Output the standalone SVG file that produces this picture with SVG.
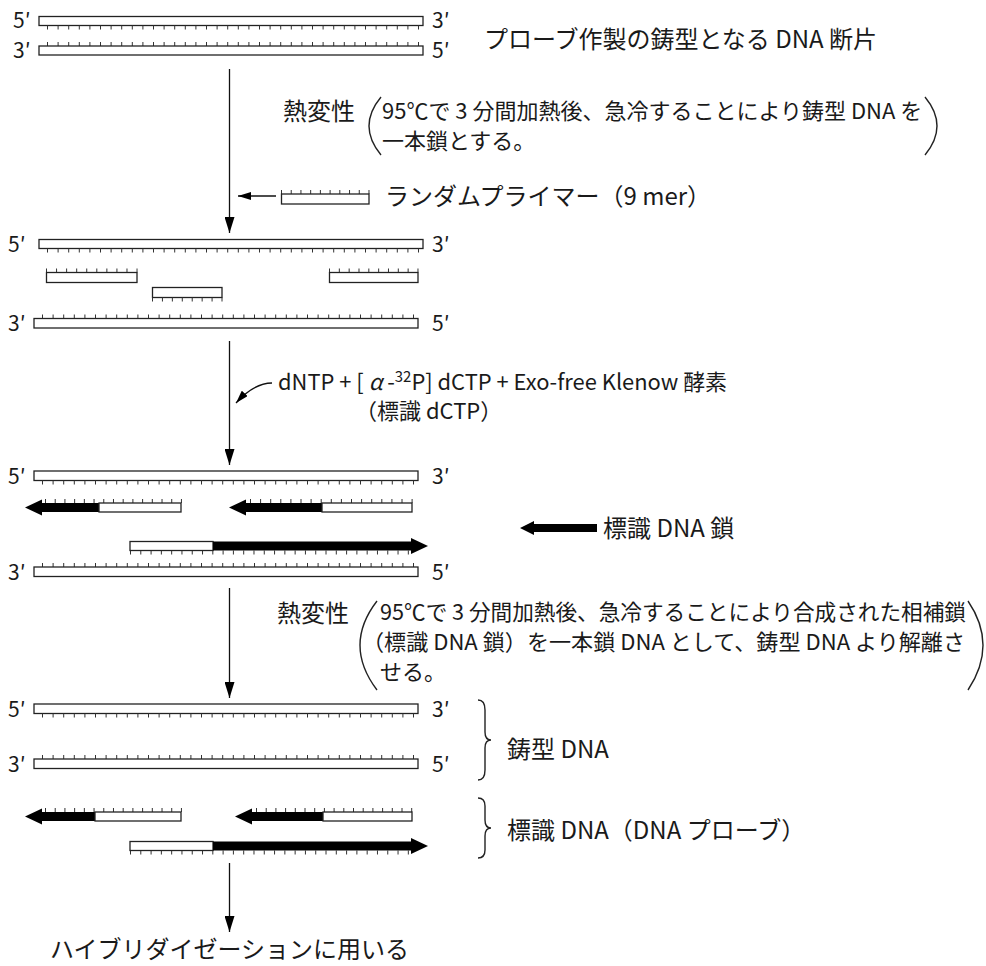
<svg xmlns="http://www.w3.org/2000/svg" width="986" height="966" viewBox="0 0 986 966">
<style>
text{font-family:"Noto Sans CJK JP","Noto Sans",sans-serif;fill:#1a1a1a;font-size:22px}
.lb{font-size:21px}
.big{font-size:24px}
.st{fill:#fff;stroke:#222;stroke-width:1.3}
.tk{stroke:#333;stroke-width:4;fill:none}
.ln{stroke:#111;stroke-width:1.3;fill:none}
.bk{fill:#000}
.br{fill:none;stroke:#222;stroke-width:1.4}
</style>
<defs>
<marker id="ah" viewBox="0 0 16 10" refX="16" refY="5" markerWidth="16" markerHeight="10" markerUnits="userSpaceOnUse" orient="auto"><path d="M0,0 L16,5 L0,10 z" fill="#000"/></marker>
<marker id="ahs" viewBox="0 0 13 8" refX="13" refY="4" markerWidth="13" markerHeight="8" markerUnits="userSpaceOnUse" orient="auto"><path d="M0,0 L13,4 L0,8 z" fill="#000"/></marker>
</defs>

<g id="connectors">
<line class="ln" x1="229.5" y1="69" x2="229.5" y2="233" marker-end="url(#ah)"/>
<line class="ln" x1="276" y1="196" x2="238" y2="196" marker-end="url(#ahs)"/>
<line class="ln" x1="229.5" y1="341" x2="229.5" y2="465" marker-end="url(#ah)"/>
<path class="ln" d="M272,383 C258,383 246,392 236,403" marker-end="url(#ahs)"/>
<line class="ln" x1="229.5" y1="588" x2="229.5" y2="698" marker-end="url(#ah)"/>
<line class="ln" x1="229.5" y1="863" x2="229.5" y2="932" marker-end="url(#ah)"/>
</g>

<g id="template-ds">
<text class="lb" x="13" y="28">5′</text><text class="lb" x="432" y="28">3′</text>
<rect class="st" x="39" y="16.5" width="384" height="9"/>
<line class="tk" x1="47" y1="27.5" x2="419" y2="27.5" stroke-dasharray="1 9.6"/>
<text class="lb" x="13" y="58">3′</text><text class="lb" x="432" y="58">5′</text>
<line class="tk" x1="47" y1="44" x2="419" y2="44" stroke-dasharray="1 9.6"/>
<rect class="st" x="39" y="46" width="384" height="9"/>
<text class="big" x="484" y="48">プローブ作製の鋳型となる DNA 断片</text>
</g>

<g id="denature1">
<text class="big" x="283" y="120">熱変性</text>
<path class="br" d="M381,97 Q357,126 381,155"/>
<text x="382" y="119">95℃で 3 分間加熱後、急冷することにより鋳型 DNA を</text>
<text x="382" y="149">一本鎖とする。</text>
<path class="br" d="M925,97 Q949,126 925,155"/>
</g>

<g id="primer">
<line class="tk" x1="281" y1="192" x2="369.5" y2="192" stroke-dasharray="1 8.72"/>
<rect class="st" x="281.5" y="194" width="87.5" height="10"/>
<text class="big" x="385" y="205">ランダムプライマー（9 mer）</text>
</g>

<g id="annealed">
<text class="lb" x="8" y="251.5">5′</text><text class="lb" x="432" y="251.5">3′</text>
<rect class="st" x="39" y="239.5" width="384" height="9"/>
<line class="tk" x1="47" y1="250.5" x2="419" y2="250.5" stroke-dasharray="1 9.6"/>
<line class="tk" x1="46" y1="270.5" x2="137.5" y2="270.5" stroke-dasharray="1 9.06"/>
<rect class="st" x="46.5" y="272.5" width="90.5" height="10"/>
<rect class="st" x="152.5" y="287.5" width="69.5" height="10"/>
<line class="tk" x1="152" y1="299.5" x2="222.5" y2="299.5" stroke-dasharray="1 8.93"/>
<line class="tk" x1="329" y1="270.5" x2="418.5" y2="270.5" stroke-dasharray="1 8.83"/>
<rect class="st" x="329.5" y="272.5" width="88.5" height="10"/>
<text class="lb" x="8" y="330.5">3′</text><text class="lb" x="432" y="330.5">5′</text>
<line class="tk" x1="42" y1="316.5" x2="414" y2="316.5" stroke-dasharray="1 9.6"/>
<rect class="st" x="34" y="318.5" width="384" height="9.5"/>
</g>

<g id="reagents">
<text x="278" y="390" textLength="449" lengthAdjust="spacingAndGlyphs">dNTP + [ <tspan font-style="italic">α</tspan> -<tspan font-size="15" dy="-8">32</tspan><tspan dy="8">P] dCTP + Exo-free Klenow 酵素</tspan></text>
<text x="355" y="419">（標識 dCTP）</text>
</g>

<g id="extended">
<text class="lb" x="8" y="483.5">5′</text><text class="lb" x="432" y="483.5">3′</text>
<rect class="st" x="34" y="471" width="384" height="9.5"/>
<line class="tk" x1="42" y1="482.5" x2="414" y2="482.5" stroke-dasharray="1 9.6"/>
<line class="tk" x1="45" y1="501" x2="182" y2="501" stroke-dasharray="1 8.71"/>
<polygon class="bk" points="25,507.5 42,499.5 42,503 99,503 99,512 42,512 42,515.5"/>
<rect class="st" x="99" y="503" width="82" height="9"/>
<line class="tk" x1="250" y1="501" x2="412.6" y2="501" stroke-dasharray="1 9.1"/>
<polygon class="bk" points="229,507.5 246,499.5 246,503 322,503 322,512 246,512 246,515.5"/>
<rect class="st" x="322" y="503" width="90" height="9"/>
<line class="tk" x1="130" y1="552.5" x2="410" y2="552.5" stroke-dasharray="1 9.29"/>
<rect class="st" x="130" y="541.5" width="83" height="9"/>
<polygon class="bk" points="213,541.5 411,541.5 411,538 428,546 411,554 411,550.5 213,550.5"/>
<text class="lb" x="8" y="579.5">3′</text><text class="lb" x="432" y="579.5">5′</text>
<line class="tk" x1="42" y1="565" x2="414" y2="565" stroke-dasharray="1 9.6"/>
<rect class="st" x="34" y="567" width="384" height="9.5"/>
</g>

<g id="legend">
<polygon class="bk" points="520,528 534,521 534,524 597,524 597,532 534,532 534,535"/>
<text class="big" x="603" y="537">標識 DNA 鎖</text>
</g>

<g id="denature2">
<text class="big" x="277" y="622">熱変性</text>
<path class="br" d="M377,601 Q343,645 377,690"/>
<text x="380" y="620" textLength="586" lengthAdjust="spacingAndGlyphs">95℃で 3 分間加熱後、急冷することにより合成された相補鎖</text>
<text x="362" y="650" textLength="603" lengthAdjust="spacingAndGlyphs">（標識 DNA 鎖）を一本鎖 DNA として、鋳型 DNA より解離さ</text>
<text x="380" y="680">せる。</text>
<path class="br" d="M968,601 Q998,645 968,690"/>
</g>

<g id="separated">
<text class="lb" x="8" y="716.5">5′</text><text class="lb" x="432" y="716.5">3′</text>
<rect class="st" x="34" y="704" width="384" height="9.5"/>
<line class="tk" x1="42" y1="715.5" x2="414" y2="715.5" stroke-dasharray="1 9.6"/>
<text class="lb" x="8" y="771.5">3′</text><text class="lb" x="432" y="771.5">5′</text>
<line class="tk" x1="42" y1="757" x2="414" y2="757" stroke-dasharray="1 9.6"/>
<rect class="st" x="34" y="759" width="384" height="9.5"/>
<path class="br" d="M478,700 Q485,700 485,710 L485,732 Q485,740 491,740 Q485,740 485,748 L485,770 Q485,780 478,780"/>
<text class="big" x="507" y="758">鋳型 DNA</text>
<line class="tk" x1="45" y1="810" x2="182" y2="810" stroke-dasharray="1 8.71"/>
<polygon class="bk" points="25,816.5 42,808.5 42,812 95,812 95,821 42,821 42,824.5"/>
<rect class="st" x="95" y="812" width="86" height="9"/>
<line class="tk" x1="256" y1="810" x2="412.6" y2="810" stroke-dasharray="1 8.7"/>
<polygon class="bk" points="235,816.5 252,808.5 252,812 323,812 323,821 252,821 252,824.5"/>
<rect class="st" x="323" y="812" width="89" height="9"/>
<line class="tk" x1="130" y1="852.5" x2="410" y2="852.5" stroke-dasharray="1 9.29"/>
<rect class="st" x="130" y="841.5" width="83" height="9"/>
<polygon class="bk" points="213,841.5 411,841.5 411,838 428,846 411,854 411,850.5 213,850.5"/>
<path class="br" d="M478,798 Q485,798 485,806 L485,820 Q485,828 491,828 Q485,828 485,836 L485,850 Q485,858 478,858"/>
<text class="big" x="507" y="839">標識 DNA（DNA プローブ）</text>
</g>

<g id="final">
<text class="big" x="50" y="958">ハイブリダイゼーションに用いる</text>
</g>
</svg>
